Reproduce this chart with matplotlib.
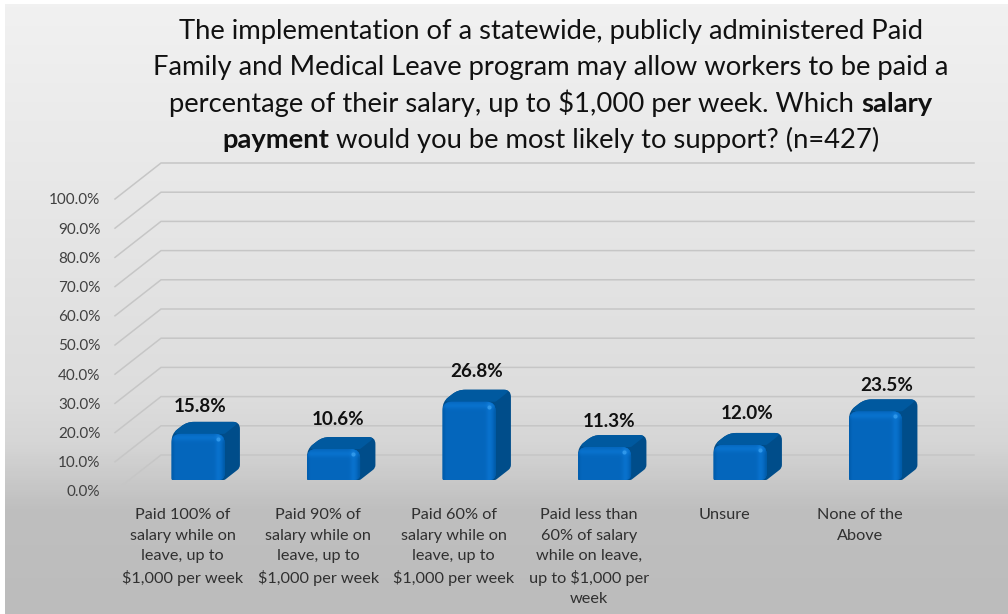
import numpy as np
import matplotlib
matplotlib.use('Agg')
import matplotlib.pyplot as plt
from matplotlib.colors import LinearSegmentedColormap
from matplotlib.patches import PathPatch
from matplotlib.path import Path

plt.rcParams['font.family'] = ['Lato', 'DejaVu Sans']

categories = [
    'Paid 100% of\nsalary while on\nleave, up to\n$1,000 per week',
    'Paid 90% of\nsalary while on\nleave, up to\n$1,000 per week',
    'Paid 60% of\nsalary while on\nleave, up to\n$1,000 per week',
    'Paid less than\n60% of salary\nwhile on leave,\nup to $1,000 per\nweek',
    'Unsure',
    'None of the\nAbove',
]
values = [15.8, 10.6, 26.8, 11.3, 12.0, 23.5]
y_ticks = [0, 10, 20, 30, 40, 50, 60, 70, 80, 90, 100]
title_lines = [
    [('The implementation of a statewide, publicly administered Paid', 'normal')],
    [('Family and Medical Leave program may allow workers to be paid a', 'normal')],
    [('percentage of their salary, up to $1,000 per week. Which ', 'normal'), ('salary', 'bold')],
    [('payment', 'bold'), (' would you be most likely to support? (n=427)', 'normal')],
]

W, H = 1008, 614
LEFT, RIGHT, BASE, TOP = 115, 928, 491, 199
PX_X = 6 / (RIGHT - LEFT)
PX_Y = 100 / (BASE - TOP)
DEPTH_X = 46 * PX_X
DEPTH_Y = 36 * PX_Y
BAR_W = 53 * PX_X
# value labels sit a little off centre in the original
LABEL_NUDGE_X = [2, 4, 8, 4, 7, 11]
LABEL_NUDGE_Y = [-2, 1, 1, -3, 2, -3]

fig = plt.figure(figsize=(W / 100, H / 100), dpi=100, facecolor='white')

# panel background, white strip left and on top
bg = fig.add_axes([5 / W, 0, 1 - 5 / W, 1 - 4 / H], zorder=0)
stops = [(0, '#f1f1f1'), (0.64, '#dddddd'), (0.72, '#d6d6d6'), (0.83, '#bfbfbf'), (1, '#bcbcbc')]
bg_cmap = LinearSegmentedColormap.from_list('panel', stops)
bg.imshow(np.linspace(0, 1, 610).reshape(-1, 1), cmap=bg_cmap, aspect='auto')
bg.axis('off')

ax = fig.add_axes([LEFT / W, 1 - BASE / H, (RIGHT - LEFT) / W, (BASE - TOP) / H], zorder=1)
ax.patch.set_visible(False)
ax.set_xlim(0, 6)
ax.set_ylim(0, 100)
ax.set_autoscale_on(False)
for s in ax.spines.values():
    s.set_visible(False)

ax.set_yticks(y_ticks)
ax.set_yticklabels([f'{t:.1f}%' for t in y_ticks], fontsize=11, color='#404040')
ax.set_xticks(np.arange(6) + 0.5)
ax.set_xticklabels(categories, fontsize=11.7, color='#303030', linespacing=1.56)
ax.tick_params(axis='y', length=0, pad=10.5)
ax.tick_params(axis='x', length=0, pad=12.5)

for t in y_ticks:
    ax.plot([0, DEPTH_X, 6 + DEPTH_X], [t, t + DEPTH_Y, t + DEPTH_Y], color='#c6c6c6', lw=1.1,
            clip_on=False, zorder=1, solid_joinstyle='miter')


def rounded(points, radii, color, z):
    pts = np.array(points, dtype=float)
    scale = np.array([PX_X, PX_Y])
    px = pts / scale
    verts, codes = [], []
    n = len(px)
    for i in range(n):
        p, a, b = px[i], px[i - 1], px[(i + 1) % n]
        ua = (a - p) / np.linalg.norm(a - p)
        ub = (b - p) / np.linalg.norm(b - p)
        r = radii[i]
        verts += [p + ua * r, p, p + ub * r]
        codes += [Path.MOVETO if i == 0 else Path.LINETO, Path.CURVE3, Path.CURVE3]
    verts.append(verts[0])
    codes.append(Path.CLOSEPOLY)
    patch = PathPatch(Path(np.array(verts) * scale, codes), facecolor=color, edgecolor='none',
                      zorder=z, clip_on=False)
    ax.add_patch(patch)
    return patch


bar_cmap = LinearSegmentedColormap.from_list('bar', ['#005aa8', '#0568bf', '#0a74d0', '#1a82dc'])

for i, v in enumerate(values):
    dx, dy = DEPTH_X / 3, DEPTH_Y / 3
    x0 = i + 0.5 - BAR_W / 2 + dx
    x1 = x0 + BAR_W
    y0 = dy - 1 * PX_Y
    y1 = y0 + v

    # silhouette in side colour, then top and front over it
    rounded([(x0, y0), (x1, y0), (x1 + dx, y0 + dy), (x1 + dx, y1 + dy), (x0 + dx, y1 + dy), (x0, y1)],
            [1, 1, 3, 7, 7, 7], '#004d8a', 3)
    rounded([(x0, y1), (x0 + dx, y1 + dy), (x1 + dx, y1 + dy), (x1, y1)], [7, 7, 7, 1], '#00599f', 3.1)
    front = rounded([(x0, y0), (x1, y0), (x1, y1), (x0, y1)], [2, 6, 9, 9], '#0568bf', 4)

    # bevel shading on the front face
    nx, ny = 53, int(v * 2.92)
    xx = np.arange(nx)[None, :]
    yy = np.arange(ny)[:, None]
    shade = 0.3 + 0.3 * np.exp(-((yy - 4) / 3) ** 2) + 0.3 * np.exp(-((xx - (nx - 7)) / 3) ** 2)
    shade = shade - 0.2 * np.exp(-(xx / 2) ** 2) - 0.25 * np.exp(-((xx - (nx - 1)) / 2) ** 2)
    im = ax.imshow(shade, cmap=bar_cmap, vmin=0, vmax=1, extent=[x0, x1, y0, y1], origin='upper',
                   aspect='auto', zorder=4.1, interpolation='bilinear')
    im.set_clip_path(front)
    ax.plot([x1 - 7 * PX_X], [y1 - 5 * PX_Y], 'o', ms=3, mfc='#2f97ea', mec='none', zorder=4.2, clip_on=False)

    ax.text(i + 0.5 + dx + LABEL_NUDGE_X[i] * PX_X, y1 + dy + (17 + LABEL_NUDGE_Y[i]) * PX_Y, f'{v:.1f}%',
            ha='center', va='center', fontsize=13.6, fontweight='bold', color='#111111', zorder=5)

# title, bold words need their own text objects
renderer = fig.canvas.get_renderer()
title_y = [39, 75, 112, 148]
for line, y in zip(title_lines, title_y):
    pieces = []
    total = 0
    for s, w in line:
        t = fig.text(0, 1 - y / H, s.replace(' ', '\u00a0'), fontsize=19.75, fontweight=w, color='#111111',
                     va='baseline', ha='left', zorder=6)
        width = t.get_window_extent(renderer).width
        pieces.append((t, width))
        total += width
    x = 551 - total / 2
    for t, width in pieces:
        t.set_x(x / W)
        x += width

fig.savefig('out.png', dpi=100)
